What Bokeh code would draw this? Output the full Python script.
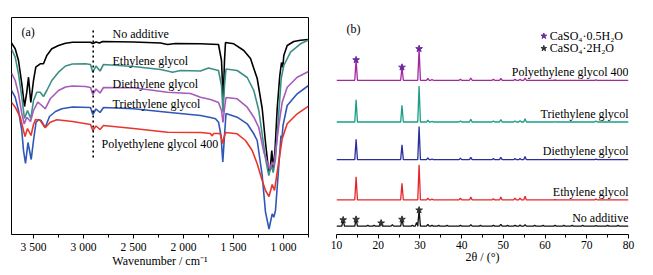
from bokeh.plotting import figure
from bokeh.layouts import row
from bokeh.models import Range1d, FixedTicker, Label
from bokeh.embed import file_html
from bokeh.resources import INLINE

FONT = "Liberation Serif"

# ---------------- Panel (a): FTIR (wavenumber, relative transmittance) ----------------
ftir_labels = ["No additive", "Ethylene glycol", "Diethylene glycol", "Triethylene glycol", "Polyethylene glycol 400"]

noadd_wn = [3720, 3683, 3650, 3617, 3590, 3567, 3550, 3527, 3500, 3477, 3433, 3400, 3367, 3317, 3250, 3180, 3110,
            2930, 2907, 2875, 2840, 2810, 2500, 2230, 2160, 2080, 1830, 1650, 1620, 1603, 1590, 1580, 1497, 1397,
            1330, 1263, 1213, 1180, 1147, 1130, 1117, 1103, 1085, 1063, 1037, 1020, 1007, 997, 963, 897, 830, 750]
noadd_t = [191.5, 185.7, 174, 150.7, 128, 142.3, 157.3, 132, 154, 167.3, 170.7, 170.7, 179, 185.7, 189, 191.3, 192.3,
           192.3, 191, 192.5, 191.5, 193, 192.5, 191.5, 190, 191, 190.7, 190, 174, 134, 174, 192, 190.7, 184,
           176, 156, 126, 92, 62, 69, 84, 66, 84, 126, 159, 172, 167.3, 179, 189, 193, 194.3, 195]

eg_wn = [3720, 3683, 3650, 3617, 3590, 3560, 3527, 3500, 3467, 3433, 3400, 3367, 3317, 3250, 3180, 3110, 2980,
         2930, 2907, 2875, 2835, 2800, 2500, 2230, 2160, 2110, 2030, 1830, 1750, 1650, 1620, 1605, 1590, 1575,
         1463, 1363, 1297, 1247, 1213, 1180, 1147, 1123, 1103, 1080, 1047, 1023, 997, 930, 830, 750]
eg_t = [185.5, 177.3, 160.7, 137.3, 116, 124, 116, 134, 142.3, 142.3, 138, 144, 154, 162.3, 168.5, 170.5, 170.7,
        170, 162.3, 168.5, 163.5, 170, 168, 165, 163.5, 162.3, 164, 163.5, 166.5, 164, 149, 122, 149, 165.5,
        164, 157, 144, 124, 100, 76, 59, 69, 62, 76, 122, 156, 169, 182.3, 190.7, 194.5]

deg_wn = [3720, 3683, 3650, 3617, 3593, 3567, 3530, 3500, 3457, 3417, 3383, 3333, 3250, 3180, 3110, 2980, 2930,
          2907, 2875, 2835, 2800, 2500, 2160, 1930, 1830, 1730, 1650, 1620, 1605, 1590, 1575, 1463, 1363, 1297,
          1247, 1197, 1140, 1113, 1097, 1080, 1047, 1013, 963, 863, 750]
deg_t = [161.5, 154, 140.7, 121, 110.5, 117.3, 113, 124, 132.3, 129, 125.7, 135.7, 144, 147.5, 148.5, 148, 147,
         140, 145.5, 141.5, 147, 146.7, 142.3, 141, 137.3, 135, 132, 124, 112, 126, 137, 135.7, 127.3, 117.3,
         107, 82.3, 65.7, 72.3, 69, 82.3, 109, 132.3, 147.3, 157.3, 163]

teg_wn = [3720, 3683, 3650, 3617, 3600, 3580, 3555, 3523, 3500, 3475, 3450, 3425, 3383, 3340, 3280, 3217, 3110,
          2930, 2907, 2875, 2835, 2800, 2500, 2160, 1830, 1730, 1680, 1650, 1625, 1607, 1590, 1575, 1463, 1363,
          1297, 1263, 1213, 1180, 1145, 1113, 1097, 1080, 1047, 1025, 1015, 1005, 963, 863, 750]
teg_t = [144, 137.3, 124, 104, 84, 71, 92, 75, 94, 112, 115, 114, 107, 118, 123, 125.7, 127.5,
         127, 120, 125.5, 122, 127, 125.7, 122.3, 119, 117, 115.7, 112.3, 99, 72.5, 99, 121, 117.3, 110.7,
         100.7, 94, 59, 22.3, 5.5, 20.7, 17.3, 24, 69, 99, 96, 109, 129, 140.7, 149]

peg_wn = [3720, 3683, 3633, 3585, 3560, 3525, 3500, 3480, 3433, 3383, 3333, 3267, 3110, 2930, 2907, 2875, 2835,
          2800, 2500, 2160, 1830, 1730, 1713, 1700, 1635, 1620, 1607, 1595, 1580, 1463, 1380, 1313, 1263, 1213,
          1180, 1145, 1113, 1090, 1063, 1013, 963, 863, 750]
peg_t = [132.3, 127.3, 117.3, 98, 106, 99, 110, 115, 114, 106.7, 112.3, 114.7, 113, 110, 104, 108.5, 105,
         109, 106, 102.3, 102, 101, 98.5, 101, 101, 96, 91, 97, 102, 100.7, 94, 84, 70.7, 54,
         44, 38, 50, 44, 62.3, 95.7, 110.7, 120.7, 128.3]

ftir_colors = ["#000000", "#3b8f86", "#a75bba", "#2f57b9", "#e9362d"]
ftir_label_y = [200.5, 174, 150.7, 131, 90.7]
ftir_label_x = [2710, 2710, 2710, 2710, 2820]
wn_ticks = [3500, 3000, 2500, 2000, 1500, 1000]
wn_minor = [3250, 2750, 2250, 1750, 1250, 750]
wn_tick_text = ["3 500", "3 000", "2 500", "2 000", "1 500", "1 000"]

# ---------------- Panel (b): XRD ----------------
xrd_labels = ["Polyethylene glycol 400", "Triethylene glycol", "Diethylene glycol", "Ethylene glycol", "No additive"]
two_theta = [11.6, 14.7, 17.5, 19.0, 20.7, 23.4, 25.7, 28.2, 29.2, 29.8, 31.9, 32.9, 34.5, 36.5, 39.7, 42.2,
             44.5, 47.6, 49.4, 51.0, 52.8, 54.0, 55.2, 57.5, 59.5, 62.4, 64.5, 66.5, 69.0, 72.2, 75.0, 77.5]
xrd_peg = [0, 22, 0, 0, 0, 0, 14, 0, 0, 34, 2, 0.7, 0, 0, 1, 2.5,
           0, 1, 2, 0, 1, 1, 2.5, 0, 0, 0.3, 0, 0, 0, 0.5, 0, 0]
xrd_teg = [0, 24, 0, 0, 0, 0, 18, 0, 0, 38.7, 2, 0.7, 0, 0, 1, 3,
           0, 1, 2.5, 0, 1, 1.3, 3.5, 0, 0, 0.3, 0, 0, 0, 1, 0, 0]
xrd_deg = [0, 22, 0, 0, 0, 0, 16, 0, 0, 35.7, 2, 0.7, 0, 0, 1.5, 2.5,
           0, 1.2, 2.5, 0, 1.2, 1.2, 3.5, 0, 0, 0.3, 0, 0, 0, 0.5, 0, 0]
xrd_eg = [0, 25, 0, 0, 0, 0, 18, 0, 0, 38, 2, 1, 0, 0, 1.8, 3,
          0, 1.2, 3, 0, 2, 2, 4, 0, 0, 0.3, 0, 0, 0, 1, 0, 0]
xrd_noadd = [6.7, 7.3, 1, 1, 3.3, 1.5, 7.3, 1, 4, 17.3, 2, 1, 0.8, 0.8, 1, 1.5,
             0.8, 1, 2, 0.8, 1, 1.2, 1.5, 0.8, 0.8, 0.8, 0.8, 0.8, 0.8, 0.5, 0.8, 0.8]
xrd_offsets = [166.3, 121.3, 80.7, 37.3, 9.0]
xrd_colors = ["#a3289e", "#1a9e86", "#2b2e9c", "#e5262b", "#111111"]
hemihydrate_peaks = [14.7, 25.7, 29.8]
dihydrate_peaks = [11.6, 14.7, 20.7, 25.7, 29.8]
phase_names = ["CaSO\u2084\u00b70.5H\u2082O", "CaSO\u2084\u00b72H\u2082O"]
phase_colors = ["#6b2a9c", "#333333"]
tt_ticks = [10, 20, 30, 40, 50, 60, 70, 80]
tt_minor = [15, 25, 35, 45, 55, 65, 75]


def style_axis(ax):
    ax.axis_line_color = "black"
    ax.major_tick_line_color = "black"
    ax.minor_tick_line_color = "black"
    ax.major_tick_in = 0
    ax.major_tick_out = 4
    ax.minor_tick_in = 0
    ax.minor_tick_out = 3
    ax.major_label_text_font = FONT
    ax.major_label_text_font_size = "11.5px"
    ax.major_label_text_color = "black"
    ax.major_label_standoff = 2
    ax.axis_label_text_font = FONT
    ax.axis_label_text_font_size = "12px"
    ax.axis_label_text_font_style = "normal"
    ax.axis_label_text_color = "black"
    ax.axis_label_standoff = -2


# ---- figure (a)
pa = figure(width=325, height=275, output_backend="svg", toolbar_location=None,
            x_range=Range1d(3720, 750), y_range=Range1d(0, 217),
            min_border_left=11, min_border_right=17, min_border_top=17, min_border_bottom=41)
pa.grid.visible = False
pa.yaxis.visible = False
pa.outline_line_color = "black"
pa.outline_line_width = 1
pa.background_fill_color = "white"
pa.border_fill_color = "white"
pa.xaxis.ticker = FixedTicker(ticks=wn_ticks, minor_ticks=wn_minor)
pa.xaxis.major_label_overrides = {t: s for t, s in zip(wn_ticks, wn_tick_text)}
pa.xaxis.axis_label = "Wavenumber / cm\u207b\u00b9"
style_axis(pa.xaxis[0])

ftir_series = [(noadd_wn, noadd_t), (eg_wn, eg_t), (deg_wn, deg_t), (teg_wn, teg_t), (peg_wn, peg_t)]
for (wn, t), c in zip(ftir_series, ftir_colors):
    pa.line(wn, t, line_color=c, line_width=1.6)

# dotted marker line at C-H band
pa.line([2903, 2903], [77, 207], line_color="black", line_width=1.6, line_dash="2 3")

for name, lx, ly in zip(ftir_labels, ftir_label_x, ftir_label_y):
    pa.add_layout(Label(x=lx, y=ly, text=name, text_font=FONT, text_font_size="12px",
                        text_baseline="middle", text_align="left", text_color="black"))
pa.add_layout(Label(x=10, y=203, x_units="screen", y_units="screen", text="(a)", text_font=FONT,
                    text_font_size="12px", text_baseline="middle", text_color="black"))

# ---- figure (b)  (frame reaches the top so the key is not clipped)
pb = figure(width=328, height=275, output_backend="svg", toolbar_location=None,
            x_range=Range1d(10, 80), y_range=Range1d(0, 234),
            min_border_left=11, min_border_right=25, min_border_top=0, min_border_bottom=41)
pb.grid.visible = False
pb.yaxis.visible = False
pb.outline_line_color = None
pb.background_fill_color = "white"
pb.border_fill_color = "white"
pb.xaxis.ticker = FixedTicker(ticks=tt_ticks, minor_ticks=tt_minor)
pb.xaxis.axis_label = "2\u03b8 / (\u00b0)"
style_axis(pb.xaxis[0])


def spike_trace(heights, offset, half_width=0.32):
    xs, ys = [10.0], [offset]
    for pos, h in zip(two_theta, heights):
        if h > 0:
            xs += [pos - half_width, pos, pos + half_width]
            ys += [offset, offset + h, offset]
    xs.append(80.0)
    ys.append(offset)
    return xs, ys


xrd_series = [xrd_peg, xrd_teg, xrd_deg, xrd_eg, xrd_noadd]
for hts, off, c, name in zip(xrd_series, xrd_offsets, xrd_colors, xrd_labels):
    xs, ys = spike_trace(hts, off)
    pb.line(xs, ys, line_color=c, line_width=1.3)
    pb.add_layout(Label(x=80, y=off + 9, text=name, text_font=FONT, text_font_size="12px",
                        text_align="right", text_baseline="middle", text_color="black"))

hemi_y = [xrd_offsets[0] + xrd_peg[two_theta.index(p)] for p in hemihydrate_peaks]
di_y = [xrd_offsets[4] + xrd_noadd[two_theta.index(p)] for p in dihydrate_peaks]
pb.scatter(hemihydrate_peaks, hemi_y, marker="star", size=7, fill_color=phase_colors[0], line_color=phase_colors[0])
pb.scatter(dihydrate_peaks, di_y, marker="star", size=7, fill_color=phase_colors[1], line_color=phase_colors[1])

# phase key (top right): star + label, placed in screen pixels from the frame's bottom-left
for i, (nm, col) in enumerate(zip(phase_names, phase_colors)):
    ky = 214 - 13.3 * i
    pb.scatter([59.7], [ky], marker="star", size=6, fill_color=col, line_color=col)
    pb.add_layout(Label(x=61.1, y=ky, text=nm, text_font=FONT, text_font_size="12px",
                        text_baseline="middle", text_align="left", text_color="black"))

pb.add_layout(Label(x=10, y=206, x_units="screen", y_units="screen", text="(b)", text_font=FONT,
                    text_font_size="12px", text_baseline="middle", text_color="black"))

layout = row(pa, pb)
open("out.html", "w").write(file_html(layout, INLINE))
